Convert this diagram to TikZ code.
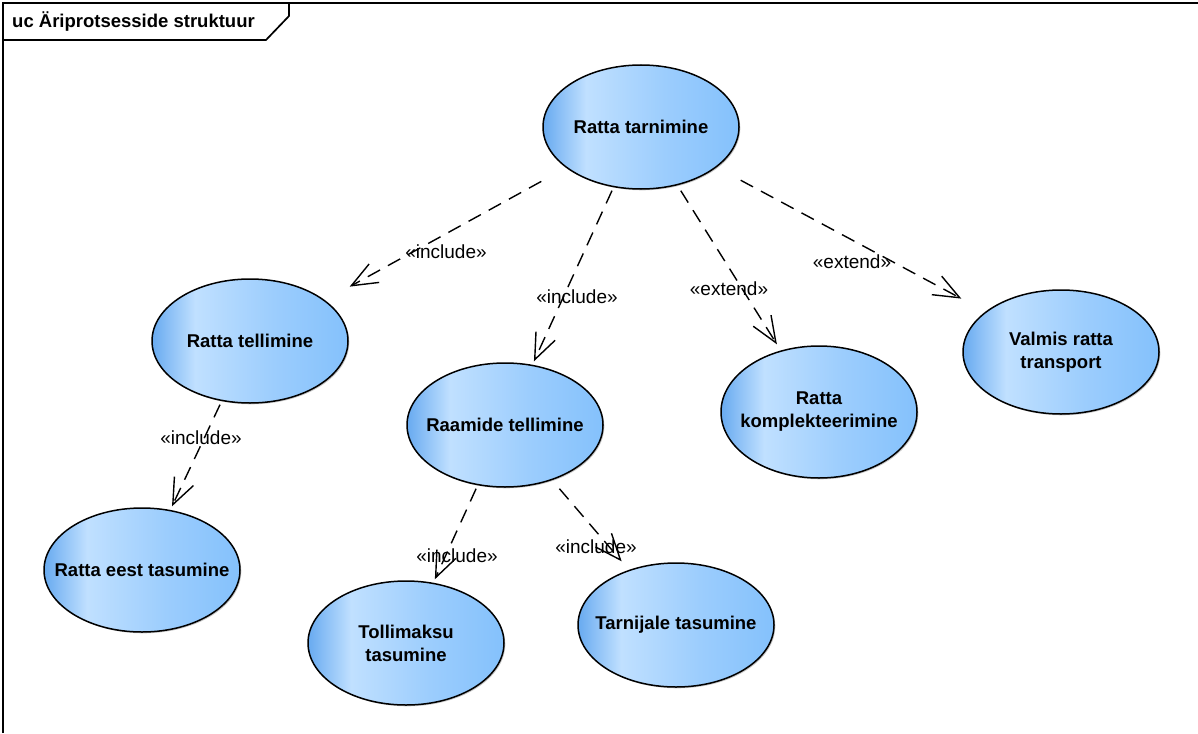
\documentclass[tikz,border=0pt]{standalone}
\usepackage{fontspec}
\setmainfont{Liberation Sans}
\usetikzlibrary{arrows.meta}

% use case fill: darker left rim, light band, blue towards the right
\definecolor{ucA}{RGB}{104,170,240}
\definecolor{ucB}{RGB}{192,224,255}
\definecolor{ucC}{RGB}{156,205,253}
\definecolor{ucD}{RGB}{132,193,252}
\pgfdeclarehorizontalshading{ucfill}{100bp}{color(0bp)=(ucA); color(25bp)=(ucA); color(36bp)=(ucB); color(56bp)=(ucC); color(75bp)=(ucD); color(100bp)=(ucD)}

\tikzset{
  uc rx/.store in=\ucrx, uc ry/.store in=\ucry,
  uc rx=98pt, uc ry=62pt,
  % a use case: rectangular node (connectors clip at its box) showing an ellipse
  uc/.style={rectangle, inner sep=0pt, minimum width=199pt, minimum height=127pt,
    align=center, font=\bfseries\fontsize{18.5}{23}\selectfont,
    path picture={
      \fill[black, opacity=0.22] ([shift={(1.3pt,-1.3pt)}]path picture bounding box.center)
        ellipse [x radius=\ucrx, y radius=\ucry];
      \shade[shading=ucfill] (path picture bounding box.center)
        ellipse [x radius=\ucrx, y radius=\ucry];
      \draw[line width=1.5pt] (path picture bounding box.center)
        ellipse [x radius=\ucrx, y radius=\ucry];
    }},
  dep/.style={draw, line width=1.4pt, dash pattern=on 14pt off 9pt,
    -{Straight Barb[length=26pt, width=21pt, line width=1.4pt]}},
  lab/.style={inner sep=0pt, font=\fontsize{19}{22}\selectfont},
  framepen/.style={line width=1.7pt}
}

\begin{document}
\begin{tikzpicture}[x=1pt, y=-1pt]
\useasboundingbox (0,0) rectangle (1198,733);

% diagram frame with its name tab
\draw[framepen] (3,733) -- (3,3) -- (1198,3);
\draw[framepen] (3,40) -- (266,40) -- (289,16) -- (289,3);
\node[anchor=west, inner sep=0pt, font=\bfseries\fontsize{18.5}{22}\selectfont] (title) at (12,22) {uc Äriprotsesside struktuur};

% use cases
\node[uc] (tarn)   at (641,127) {Ratta tarnimine};
\node[uc] (tell)   at (250,341) {Ratta tellimine};
\node[uc] (raam)   at (505,425) {Raamide tellimine};
\node[uc, uc ry=66pt, minimum height=135pt] (komp) at (819,412) {Ratta\\komplekteerimine};
\node[uc] (valm)   at (1061,352) {Valmis ratta\\transport};
\node[uc] (eest)   at (142,570) {Ratta eest tasumine};
\node[uc] (toll)   at (406,643) {Tollimaksu\\tasumine};
\node[uc] (tarnij) at (676,625) {Tarnijale tasumine};

% include / extend relations
\draw[dep] (tarn) -- (tell);
\draw[dep] (tarn) -- (raam);
\draw[dep] (tarn) -- (komp);
\draw[dep] (tarn) -- (valm);
\draw[dep] (tell) -- (eest);
\draw[dep] (raam) -- (toll);
\draw[dep] (raam) -- (tarnij);

% stereotype labels
\node[lab] (l1) at (446,252) {«include»};
\node[lab] (l2) at (577,297) {«include»};
\node[lab] (l3) at (729,289) {«extend»};
\node[lab] (l4) at (852,262) {«extend»};
\node[lab] (l5) at (201,438) {«include»};
\node[lab] (l6) at (457,556) {«include»};
\node[lab] (l7) at (596,547) {«include»};
\end{tikzpicture}
\end{document}
